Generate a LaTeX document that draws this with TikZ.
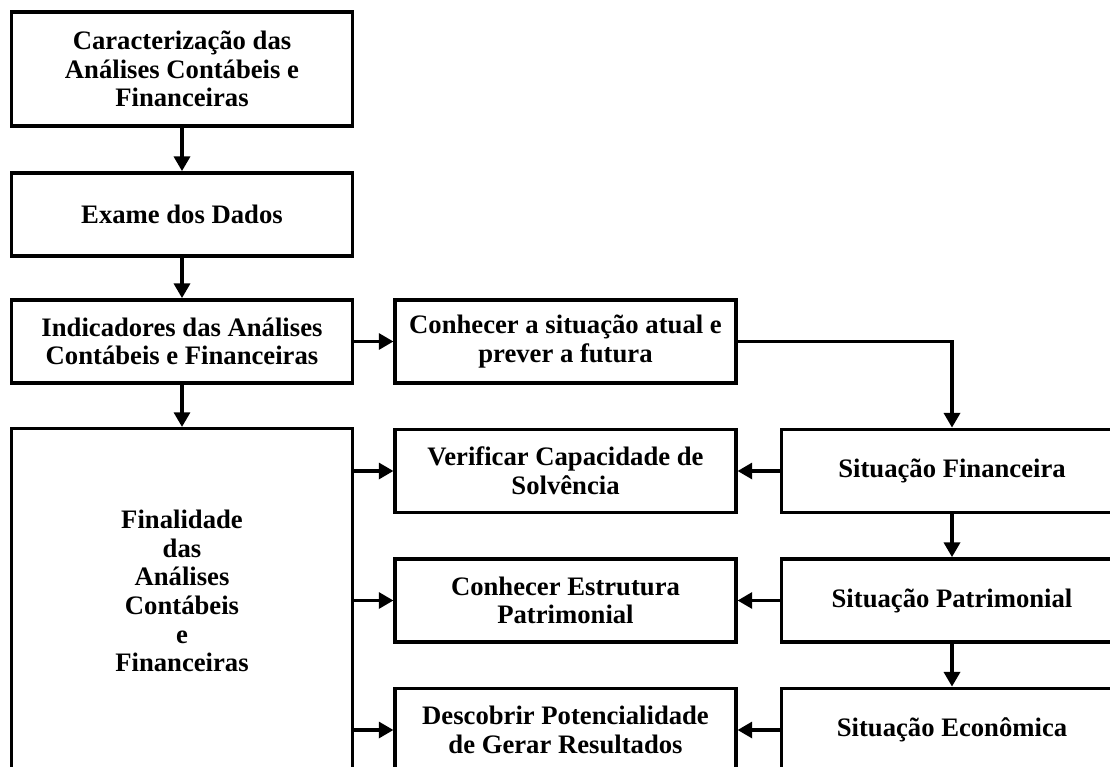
\documentclass[tikz,border=0pt]{standalone}
\usepackage{fontspec}
\setmainfont{Liberation Serif}
\usetikzlibrary{arrows.meta,positioning}
\tikzset{%
	process/.style = {draw, rectangle, line width=2.6pt, minimum width=255.5pt, minimum height=62.5pt, inner sep=0pt, align=center, font=\fontsize{20}{21.5}\selectfont\bfseries},
	arrow/.style   = {line width=2.5pt, -{Triangle[length=11pt,width=12pt]}},
}
\begin{document}
\begin{tikzpicture}[x=0.75pt,y=-0.75pt]
	\useasboundingbox (0,0) rectangle (1110,767);
	
	% left column
	\node[process, minimum height=85.5pt] (carac) at (182,69) {Caracteriza\c{c}\~ao das\\An\'alises Cont\'abeis e\\Financeiras};
	\node[process] (exame) at (182,214.5) {Exame dos Dados};
	\node[process] (indic) at (182,341.5) {Indicadores das An\'alises\\Cont\'abeis e Financeiras};
	\node[process, minimum height=263pt] (final) at (182,604) {Finalidade\\das\\An\'alises\\Cont\'abeis\\e\\Financeiras\\[-2pt]\mbox{}};
	
	% middle column
	\node[process] (conhec) at (565.5,341.5) {Conhecer a situa\c{c}\~ao atual e\\prever a futura};
	\node[process] (verif) at (565.5,471) {Verificar Capacidade de\\Solv\^encia};
	\node[process] (estrut) at (565.5,600.5) {Conhecer Estrutura\\Patrimonial};
	\node[process] (descob) at (565.5,730) {Descobrir Potencialidade\\de Gerar Resultados};
	
	% right column
	\node[process] (sitfin) at (952,471) {Situa\c{c}\~ao Financeira};
	\node[process] (sitpat) at (952,600.5) {Situa\c{c}\~ao Patrimonial};
	\node[process] (siteco) at (952,730) {Situa\c{c}\~ao Econ\^omica};
	
	\draw[arrow] (carac) -- (exame);
	\draw[arrow] (exame) -- (indic);
	\draw[arrow] (indic) -- (final);
	\draw[arrow] (indic) -- (conhec);
	\draw[arrow] (conhec.east) -| (sitfin.north);
	\draw[arrow] (sitfin) -- (sitpat);
	\draw[arrow] (sitpat) -- (siteco);
	
	\draw[arrow] (sitfin.west) -- (verif.east);
	\draw[arrow] (sitpat.west) -- (estrut.east);
	\draw[arrow] (siteco.west) -- (descob.east);
	
	\draw[arrow] (final.east |- verif.west) -- (verif.west);   % to Verificar
	\draw[arrow] (final.east |- estrut.west) -- (estrut.west); % to Conhecer
	\draw[arrow] (final.east |- descob.west) -- (descob.west); % to Descobrir
\end{tikzpicture}
\end{document}
